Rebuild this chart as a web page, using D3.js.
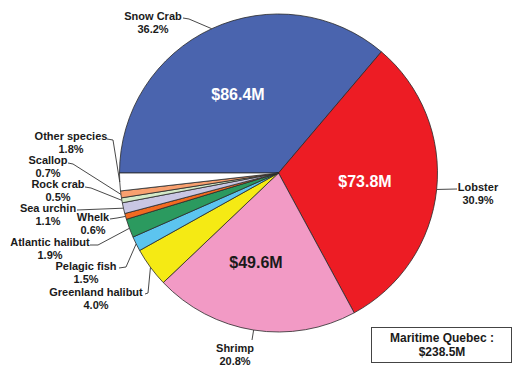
<!DOCTYPE html>
<html>
<head>
<meta charset="utf-8">
<script src="https://cdn.jsdelivr.net/npm/d3@7"></script>
<style>
  html, body { margin: 0; padding: 0; background: #fff; }
  svg { display: block; font-family: "Liberation Sans", Arial, sans-serif; }
</style>
</head>
<body>
<svg id="chart" width="513" height="368"></svg>
<script>
// Landed value shares by species, Maritime Quebec
const species = ["Snow Crab", "Lobster", "Shrimp", "Greenland halibut", "Pelagic fish",
                 "Atlantic halibut", "Whelk", "Sea urchin", "Rock crab", "Scallop", "Other species"];
const shares = [36.2, 30.9, 20.8, 4.0, 1.5, 1.9, 0.6, 1.1, 0.5, 0.7, 1.8];
const valueLabels = ["$86.4M", "$73.8M", "$49.6M"];
const totalLabel = ["Maritime Quebec :", "$238.5M"];
const colors = ["#4a64ae", "#ed1c24", "#f29ac5", "#f5ea14", "#5cc4ef", "#2b9a5f",
                "#f26a21", "#c9c6e3", "#d3eac8", "#f8a06f", "#ffffff"];

// Label placement: text anchor (x, first baseline) and leader start/elbow
const labelLayout = [
  { x: 153, y: 20,  l: [[183, 18], [189, 19]] },
  { x: 478, y: 191, l: [[457, 189]] },
  { x: 235, y: 352, l: [[252, 340]] },
  { x: 96,  y: 296, l: [[145, 294], [148, 293]] },
  { x: 86,  y: 270, l: [[119, 268], [126, 267]] },
  { x: 50,  y: 246, l: [[90, 245], [98, 245]] },
  { x: 93,  y: 221, l: [[110, 219], [117, 218]] },
  { x: 48,  y: 212, l: [[77, 210]] },
  { x: 58,  y: 188, l: [[85, 187], [91, 188]] },
  { x: 48,  y: 164, l: [[68, 163], [73, 164]] },
  { x: 71,  y: 140, l: [[107, 139], [113, 140]] }
];
const valuePos = [[238, 100], [365, 187], [256, 268]];
const valueColors = ["#ffffff", "#ffffff", "#1a1a1a"];

const svg = d3.select("#chart");
const cx = 278.5, cy = 173, r = 159;
const g = svg.append("g").attr("transform", `translate(${cx},${cy})`);

const pie = d3.pie().sort(null).value(d => d)
  .startAngle(-Math.PI / 2).endAngle(3 * Math.PI / 2);
const arcs = pie(shares);
const arc = d3.arc().innerRadius(0).outerRadius(r);

g.selectAll("path.slice").data(arcs).join("path")
  .attr("class", "slice")
  .attr("d", arc)
  .attr("fill", (d, i) => colors[i])
  .attr("stroke", "#2a2a2a")
  .attr("stroke-width", 0.8)
  .attr("stroke-linejoin", "round");

// Leader lines from each label to the rim of its slice
const rim = d => {
  const a = (d.startAngle + d.endAngle) / 2;
  return [cx + r * Math.sin(a), cy - r * Math.cos(a)];
};
arcs.forEach((d, i) => {
  const pts = labelLayout[i].l.concat([rim(d)]);
  svg.append("path")
    .attr("d", d3.line()(pts))
    .attr("fill", "none")
    .attr("stroke", "#333")
    .attr("stroke-width", 0.9);
});

// Species name and percentage
arcs.forEach((d, i) => {
  const L = labelLayout[i];
  const t = svg.append("text")
    .attr("x", L.x).attr("y", L.y)
    .attr("text-anchor", "middle")
    .attr("font-size", 11).attr("font-weight", "bold")
    .attr("fill", "#1a1a1a");
  t.append("tspan").attr("x", L.x).text(species[i]);
  t.append("tspan").attr("x", L.x).attr("dy", 13).text(shares[i].toFixed(1) + "%");
});

// Dollar values inside the three largest slices
valueLabels.forEach((v, i) => {
  svg.append("text")
    .attr("x", valuePos[i][0]).attr("y", valuePos[i][1])
    .attr("text-anchor", "middle")
    .attr("font-size", 16).attr("font-weight", "bold")
    .attr("fill", valueColors[i])
    .text(v);
});

// Total box
svg.append("rect")
  .attr("x", 371.5).attr("y", 327.5).attr("width", 140).attr("height", 35)
  .attr("fill", "#fff").attr("stroke", "#444").attr("stroke-width", 1);
const tt = svg.append("text")
  .attr("text-anchor", "middle")
  .attr("font-size", 12).attr("font-weight", "bold").attr("fill", "#1a1a1a");
tt.append("tspan").attr("x", 442).attr("y", 342).text(totalLabel[0]);
tt.append("tspan").attr("x", 442).attr("y", 356).text(totalLabel[1]);
</script>
</body>
</html>
